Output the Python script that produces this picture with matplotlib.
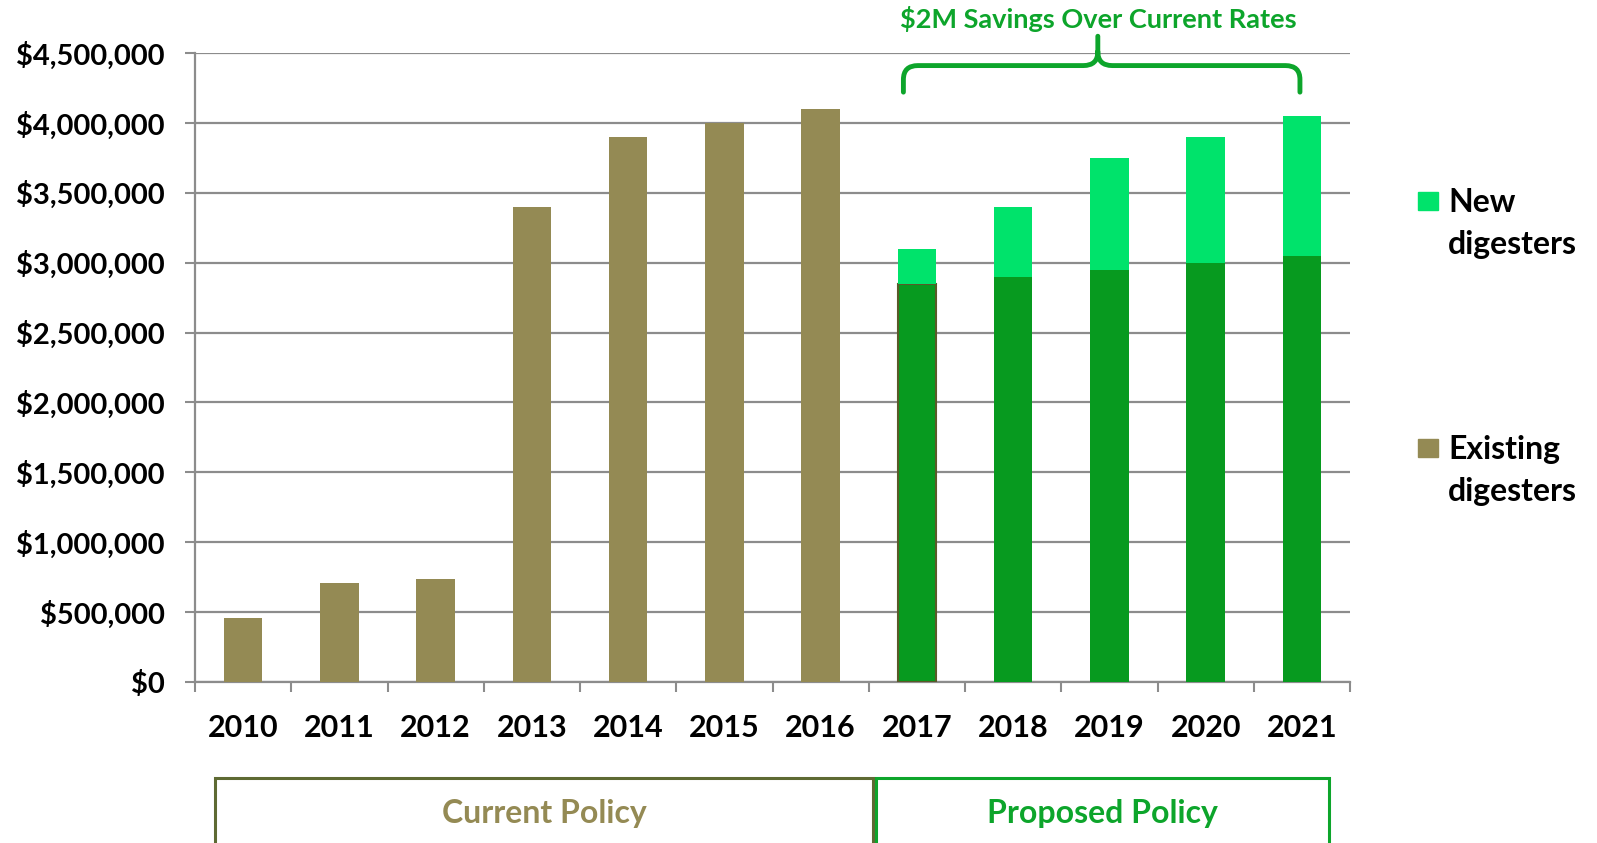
import matplotlib
matplotlib.use("Agg")
import matplotlib.pyplot as plt
from matplotlib.patches import Rectangle, PathPatch
from matplotlib.path import Path
from matplotlib.ticker import MultipleLocator, FuncFormatter

plt.rcParams['font.family'] = ['Lato', 'DejaVu Sans']

# data
years = ['2010', '2011', '2012', '2013', '2014', '2015', '2016',
         '2017', '2018', '2019', '2020', '2021']
existing = [460000, 710000, 740000, 3400000, 3900000, 4000000, 4100000,
            2850000, 2900000, 2950000, 3000000, 3050000]
new = [0, 0, 0, 0, 0, 0, 0,
       250000, 500000, 800000, 900000, 1000000]
first_proposed = 7  # 2017 onwards is the proposed policy

OLIVE = '#948A54'
DARK_GREEN = '#079A1F'
LIGHT_GREEN = '#00E36B'
TEXT_GREEN = '#0DA52B'
GRID = '#8C8C8C'

W, H = 1597, 843
fig = plt.figure(figsize=(W / 100, H / 100), dpi=100)
ax = fig.add_axes([195 / W, 1 - 682 / H, 1155 / W, 629 / H])

x = list(range(len(years)))
ex_colors = [OLIVE if i < first_proposed else DARK_GREEN for i in x]
ex_edges = ['none'] * len(years)
ex_edges[first_proposed] = '#5A5A28'

ax.bar(x, existing, width=0.4, color=ex_colors, edgecolor=ex_edges,
       linewidth=1.5, zorder=3)
ax.bar(x, new, width=0.4, bottom=existing, color=LIGHT_GREEN, zorder=3)

ax.set_xlim(-0.5, len(years) - 0.5)
ax.set_ylim(0, 4500000)

# y axis
ax.yaxis.set_major_locator(MultipleLocator(500000))
ax.yaxis.set_major_formatter(FuncFormatter(lambda v, p: '${:,.0f}'.format(v)))
ax.grid(axis='y', color=GRID, linewidth=1.6, zorder=0)
ax.tick_params(axis='y', length=7, width=1.5, color=GRID, pad=15,
               labelsize=21)
for lab in ax.get_yticklabels():
    lab.set_fontweight('bold')

# x axis: tick marks between categories, labels centred
ax.set_xticks([i - 0.5 for i in range(len(years) + 1)])
ax.set_xticklabels([])
ax.set_xticks(x, minor=True)
ax.set_xticklabels(years, minor=True, fontsize=22, fontweight='bold')
ax.tick_params(axis='x', which='major', length=7, width=1.5, color=GRID,
               direction='out')
ax.tick_params(axis='x', which='minor', length=0, pad=23)

for s in ['top', 'right']:
    ax.spines[s].set_visible(False)
for s in ['left', 'bottom']:
    ax.spines[s].set_color(GRID)
    ax.spines[s].set_linewidth(1.6)

# savings brace over the proposed years
x0, x1, xc = 6.86, 10.98, 8.88
y_low, y_mid, y_peak = 4220000, 4410000, 4620000
rx, ry = 0.15, 100000
verts = [(x0, y_low), (x0, y_mid - ry), (x0, y_mid), (x0 + rx, y_mid),
         (xc - rx, y_mid), (xc, y_mid), (xc, y_mid + ry), (xc, y_peak),
         (xc, y_mid + ry), (xc, y_mid), (xc + rx, y_mid),
         (x1 - rx, y_mid), (x1, y_mid), (x1, y_mid - ry), (x1, y_low)]
codes = [Path.MOVETO, Path.LINETO, Path.CURVE3, Path.CURVE3,
         Path.LINETO, Path.CURVE3, Path.CURVE3, Path.LINETO,
         Path.MOVETO, Path.CURVE3, Path.CURVE3,
         Path.LINETO, Path.CURVE3, Path.CURVE3, Path.LINETO]
brace = PathPatch(Path(verts, codes), fill=False, edgecolor=TEXT_GREEN,
                  linewidth=3.5, capstyle='round', joinstyle='round',
                  clip_on=False, zorder=5)
ax.add_patch(brace)
ax.text(xc, 4740000, '$2M Savings Over Current Rates', ha='center',
        va='center', color=TEXT_GREEN, fontsize=19.5, fontweight='bold',
        clip_on=False)

# legend drawn by hand to match the layout
legend_items = [('New\ndigesters', LIGHT_GREEN, 201),
                ('Existing\ndigesters', OLIVE, 448)]
for label, col, yc in legend_items:
    fig.patches.append(Rectangle((1418 / W, 1 - (yc + 9) / H), 20 / W, 18 / H,
                                 transform=fig.transFigure, color=col))
    fig.text(1448 / W, 1 - (yc - 13) / H, label, ha='left', va='top',
             fontsize=23, fontweight='bold', linespacing=1.53)

# policy boxes under the axis
boxes = [('Current Policy', 215, 873, '#5E6A33', OLIVE),
         ('Proposed Policy', 876, 1329, TEXT_GREEN, TEXT_GREEN)]
for label, left, right, edge, tcol in boxes:
    fig.patches.append(Rectangle((left / W, -10 / H), (right - left) / W,
                                 (H - 778 + 10) / H, transform=fig.transFigure,
                                 fill=False, edgecolor=edge, linewidth=2.2))
    fig.text((left + right) / 2 / W, 1 - 814 / H, label, ha='center',
             va='center', color=tcol, fontsize=23, fontweight='bold')

fig.savefig('out.png', dpi=100)
